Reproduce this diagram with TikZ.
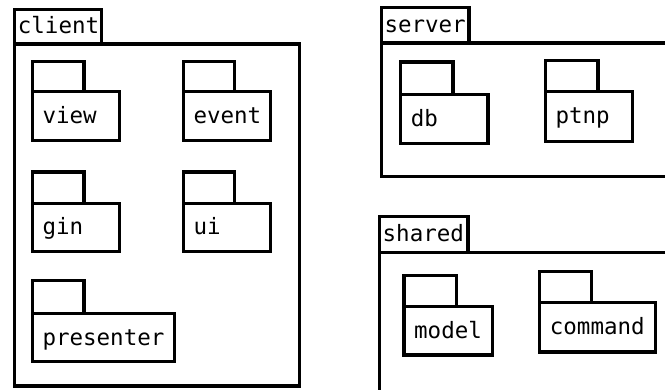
\documentclass[tikz,border=0pt]{standalone}
\usepackage{fontspec}
\setmonofont{DejaVu Sans Mono}

% a package: tab on top of a body, with a name inside the body
\newcommand\subpkg[8]{%
  \node[pkframe, minimum width={(#4-#2)*1pt}, minimum height={(#5-#3)*1pt}] (#1-tab) at (#2,#3) {};
  \node[pkframe, minimum width={(#6-#2)*1pt}, minimum height={(#7-#5)*1pt}] (#1) at (#2,#5) {};
  \node[pkname] (#1-name) at ([xshift=10pt, yshift=-7.5pt]#1.west) {#8};
}

\begin{document}
\begin{tikzpicture}[x=1pt, y=-1pt,
  pkframe/.style={draw, line width=3.2pt, rectangle, inner sep=0pt, outer sep=0pt, anchor=north west, fill=white},
  pkname/.style={font=\ttfamily\fontsize{22.5}{27}\selectfont, inner sep=0pt, anchor=base west}]
\useasboundingbox (0,0) rectangle (665,390);
\clip (0,0) rectangle (665,390);

% client
\node[pkframe, minimum width={(101.5-14.7)*1pt}, minimum height={(44-9.3)*1pt}] (client-tab) at (14.7,9.3) {};
\node[pkframe, minimum width={(299.3-14.7)*1pt}, minimum height={(386-44)*1pt}] (client) at (14.7,44) {};
\node[pkname] (client-name) at ([xshift=3pt, yshift=-7pt]client-tab.west) {client};
\subpkg{view}{32.3}{61.3}{84}{91.3}{119.3}{140.7}{view}
\subpkg{event}{183.3}{61.3}{234.7}{91.3}{270.7}{140.3}{event}
\subpkg{gin}{32.3}{172}{84}{203.3}{119.3}{251.7}{gin}
\subpkg{ui}{183.3}{172}{234.7}{203.3}{270.7}{251.7}{ui}
\subpkg{presenter}{32.3}{280.7}{84}{313.7}{174.3}{361.7}{presenter}

% server
\node[pkframe, minimum width={(469-381.3)*1pt}, minimum height={(43-7.3)*1pt}] (server-tab) at (381.3,7.3) {};
\node[pkframe, minimum width={(720-381.3)*1pt}, minimum height={(176.7-43)*1pt}] (server) at (381.3,43) {};
\node[pkname] (server-name) at ([xshift=3pt, yshift=-7pt]server-tab.west) {server};
\subpkg{db}{400.7}{62}{453}{94.3}{488}{143.3}{db}
\subpkg{ptnp}{545.3}{60.7}{598}{91.7}{632.7}{141.3}{ptnp}

% shared
\node[pkframe, minimum width={(468-379.5)*1pt}, minimum height={(252.3-216.7)*1pt}] (shared-tab) at (379.5,216.7) {};
\node[pkframe, minimum width={(720-379.5)*1pt}, minimum height={(440-252.3)*1pt}] (shared) at (379.5,252.3) {};
\node[pkname] (shared-name) at ([xshift=3pt, yshift=-7pt]shared-tab.west) {shared};
\subpkg{model}{404}{275.3}{456.3}{306.7}{492.3}{355}{model}
\subpkg{command}{539.7}{271.3}{591.3}{302.7}{655.3}{352}{command}
\end{tikzpicture}
\end{document}
